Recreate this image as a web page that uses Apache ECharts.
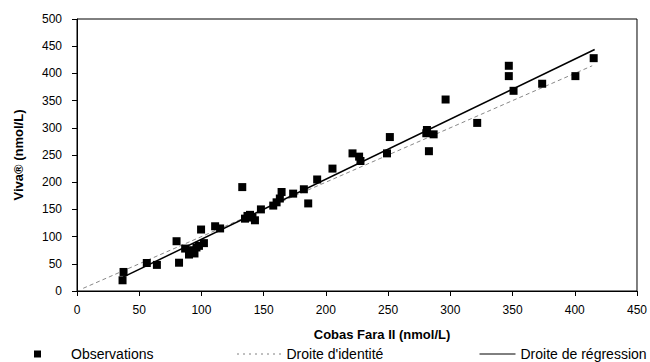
<!DOCTYPE html>
<html>
<head>
<meta charset="utf-8">
<script src="https://cdn.jsdelivr.net/npm/echarts@6/dist/echarts.min.js"></script>
<style>
  html, body { margin: 0; padding: 0; background: #fff; }
  #chart { width: 650px; height: 362px; }
</style>
</head>
<body>
<div id="chart"></div>
<script>
// valeurs
const cobas = [36.6, 37.4, 56.1, 64.2, 80, 82, 86.9, 90, 91, 94.4, 96, 98, 99.7, 102, 111, 115,
  132.8, 135, 137, 139, 141, 143, 147.8, 157.7, 160.4, 163, 164.4, 173.7, 182.3, 185.8, 193,
  205.3, 221.4, 226.7, 227.8, 249.1, 251.4, 280.7, 281.2, 282.8, 286.6, 296.2, 321.6,
  347, 347, 350.8, 373.8, 400.5, 415.2]
const viva = [19.7, 35, 51.5, 48, 91.5, 52, 78, 67, 75, 69, 80, 83, 113, 88, 119, 115,
  191, 133, 138, 140, 135, 130, 150, 157, 163, 170, 182, 179, 187, 161, 205,
  225, 253, 247, 239, 253, 283, 290, 296, 257, 288, 352, 309,
  414, 395, 368, 381, 395, 428]

const identityLine = [[5, 5], [414, 414]]
const regressionLine = [[37, 25.5], [416, 444]]

const xTicks = [0, 450, 50]   // min, max, interval
const yTicks = [0, 500, 50]

const font = 'Arial, "Liberation Sans", sans-serif'

const chart = echarts.init(document.getElementById('chart'), null, { renderer: 'svg' })

const baseLegend = {
  top: 342,
  itemGap: 0,
  itemStyle: { color: 'transparent', borderWidth: 0 },
  textStyle: { fontFamily: font, fontSize: 14, color: '#000' }
}

chart.setOption({
  animation: false,
  grid: { left: 77, right: 13, top: 19, bottom: 71, show: true, borderColor: '#000', borderWidth: 1 },
  xAxis: {
    type: 'value',
    min: xTicks[0], max: xTicks[1], interval: xTicks[2],
    name: 'Cobas Fara II (nmol/L)',
    nameLocation: 'middle',
    nameGap: 37,
    nameTextStyle: { fontFamily: font, fontSize: 13, fontWeight: 'bold', color: '#000', padding: [0, 0, 0, 50] },
    axisLine: { lineStyle: { color: '#000', width: 1 } },
    axisTick: { show: true, length: 5, lineStyle: { color: '#000' } },
    axisLabel: { fontFamily: font, fontSize: 12, color: '#000', margin: 13 },
    splitLine: { show: false }
  },
  yAxis: {
    type: 'value',
    min: yTicks[0], max: yTicks[1], interval: yTicks[2],
    name: 'Viva® (nmol/L)',
    nameLocation: 'middle',
    nameGap: 52,
    nameTextStyle: { fontFamily: font, fontSize: 13, fontWeight: 'bold', color: '#000' },
    axisLine: { lineStyle: { color: '#000', width: 1 } },
    axisTick: { show: true, length: 5, lineStyle: { color: '#000' } },
    axisLabel: { fontFamily: font, fontSize: 12, color: '#000', margin: 15 },
    splitLine: { show: false }
  },
  legend: [
    Object.assign({}, baseLegend, {
      left: 29,
      data: [{ name: 'Observations', icon: 'rect', itemStyle: { color: '#000' } }],
      itemWidth: 7, itemHeight: 7,
      textStyle: Object.assign({}, baseLegend.textStyle, { padding: [0, 0, 0, 25] })
    }),
    Object.assign({}, baseLegend, {
      left: 232,
      data: ["Droite d'identité"],
      itemWidth: 44, itemHeight: 14,
      lineStyle: { color: '#000', width: 1, type: [1, 5] }
    }),
    Object.assign({}, baseLegend, {
      left: 474,
      data: ['Droite de régression'],
      itemWidth: 36, itemHeight: 14,
      lineStyle: { color: '#000', width: 1, type: 'solid' }
    })
  ],
  series: [
    {
      name: 'Observations',
      type: 'scatter',
      symbol: 'rect',
      symbolSize: 8,
      itemStyle: { color: '#000', opacity: 1 },
      data: cobas.map((x, i) => [x, viva[i]]),
      z: 3
    },
    {
      name: "Droite d'identité",
      type: 'line',
      symbol: 'none',
      data: identityLine,
      itemStyle: { color: '#888' },
      lineStyle: { color: '#888', width: 1, type: [4, 3] },
      z: 2
    },
    {
      name: 'Droite de régression',
      type: 'line',
      symbol: 'none',
      data: regressionLine,
      itemStyle: { color: '#000' },
      lineStyle: { color: '#000', width: 1.5 },
      z: 2
    }
  ]
})
</script>
</body>
</html>
